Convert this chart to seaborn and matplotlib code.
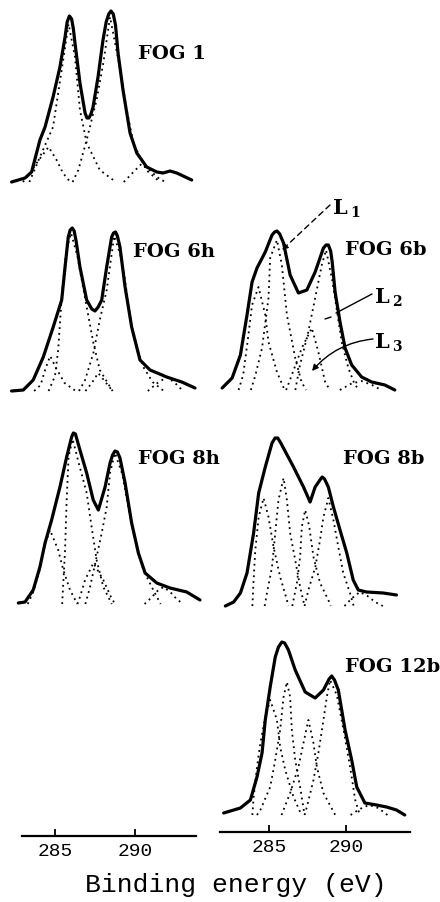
import pandas as pd
import matplotlib
matplotlib.use('Agg')
import matplotlib.pyplot as plt
import seaborn as sns

# spectra: binding energy (eV) vs intensity (arb. units, baseline = 0)
# envelope = measured C1s line, peaks = dotted fit components

fog1_ev = [282.29, 283.13, 283.54, 284.06, 284.38, 284.88, 285.31, 285.63, 285.76, 285.9,
           286.04, 286.15, 286.25, 286.56, 286.88, 287.0, 287.12, 287.25, 287.38, 287.69,
           288.0, 288.2, 288.36, 288.5, 288.64, 288.78, 288.94, 289.25, 289.69, 290.11,
           290.73, 291.36, 291.75, 292.19, 292.61, 293.54]
fog1_int = [0, 4, 10, 42, 55, 85, 115, 145, 160, 166,
            163, 153, 139, 99, 69, 64, 64, 68, 75, 105,
            142, 160, 168, 171, 168, 157, 129, 92, 49, 29,
            15, 10, 9, 11, 9, 2]
fog1_peaks = [
    ([283.0, 283.4, 283.9, 284.6, 285.1, 285.5, 285.95], [0, 8, 20, 35, 22, 9, 0]),
    ([283.4, 284.06, 284.88, 285.2, 285.42, 285.85, 286.25, 286.56, 286.98, 287.8, 288.8],
     [0, 25, 55, 89, 112, 158, 125, 72, 39, 12, 0]),
    ([286.1, 286.46, 286.98, 287.6, 288.02, 288.44, 288.96, 289.48, 289.9, 290.7, 291.56],
     [0, 12, 42, 82, 119, 165, 122, 72, 39, 12, 0]),
    ([289.3, 289.9, 290.4, 290.9, 291.6, 292.0], [0, 10, 18, 12, 2, 0]),
]

fog6h_ev = [282.29, 283.02, 283.64, 284.27, 284.89, 285.42, 285.63, 285.83, 285.95, 286.08,
            286.2, 286.32, 286.56, 286.98, 287.3, 287.5, 287.7, 287.92, 288.23, 288.54,
            288.66, 288.78, 288.9, 289.06, 289.38, 289.79, 290.31, 290.94, 291.98, 292.92,
            293.75]
fog6h_int = [0, 1, 11, 34, 64, 91, 124, 154, 161, 163,
             160, 150, 124, 91, 82, 80, 84, 91, 124, 154,
             158, 159, 155, 144, 104, 64, 31, 21, 14, 9,
             3]
fog6h_peaks = [
    ([283.7, 284.1, 284.4, 284.7, 285.1, 285.6, 286.3], [0, 6, 22, 35, 22, 8, 0]),
    ([284.6, 285.0, 285.2, 285.42, 285.7, 286.0, 286.4, 286.98, 287.4, 287.8, 288.6],
     [0, 15, 41, 94, 140, 158, 135, 84, 48, 21, 0]),
    ([286.5, 286.88, 287.4, 287.8, 288.23, 288.7, 289.2, 289.79, 290.1, 290.52, 291.1, 291.8],
     [0, 11, 38, 71, 101, 155, 130, 64, 44, 24, 9, 0]),
    ([286.9, 287.3, 287.7, 288.1, 288.6], [0, 8, 18, 10, 0]),
    ([290.8, 291.4, 292.0, 292.5, 293.0], [0, 8, 14, 8, 0]),
]

fog6b_ev = [281.93, 282.58, 283.12, 283.55, 283.88, 284.2, 284.74, 285.18, 285.35, 285.5,
            285.68, 285.93, 286.36, 286.9, 287.45, 287.99, 288.53, 288.7, 288.85, 289.0,
            289.1, 289.29, 289.61, 289.94, 290.37, 291.02, 291.67, 292.53, 293.18]
fog6b_int = [2, 12, 35, 75, 108, 122, 138, 155, 158, 159,
             156, 147, 115, 97, 100, 118, 142, 145, 145, 139,
             128, 98, 68, 42, 25, 13, 8, 5, 0]
fog6b_peaks = [
    ([283.0, 283.3, 283.6, 283.88, 284.3, 284.74, 284.95, 285.5, 286.0],
     [0, 15, 50, 85, 103, 75, 48, 18, 0]),
    ([283.8, 284.1, 284.53, 284.95, 285.06, 285.5, 285.82, 286.15, 286.69, 287.1, 287.4],
     [0, 15, 42, 92, 132, 150, 125, 75, 32, 8, 0]),
    ([286.1, 286.47, 287.12, 287.77, 288.2, 288.64, 288.95], [0, 15, 42, 62, 38, 8, 0]),
    ([286.7, 287.0, 287.5, 287.99, 288.42, 288.7, 289.1, 289.72, 290.15, 290.58, 290.9],
     [0, 25, 55, 92, 125, 140, 110, 48, 22, 5, 0]),
    ([289.6, 290.3, 291.0, 291.7, 292.3], [0, 6, 9, 5, 0]),
]

fog8h_ev = [282.71, 283.13, 283.64, 284.06, 284.38, 284.79, 285.31, 285.73, 286.04, 286.15,
            286.28, 286.4, 286.56, 286.98, 287.39, 287.71, 288.13, 288.44, 288.6, 288.75,
            288.9, 289.06, 289.38, 289.79, 290.21, 290.63, 291.36, 292.19, 293.23, 294.06]
fog8h_int = [1, 2, 14, 37, 61, 84, 117, 147, 167, 171,
             170, 163, 154, 131, 104, 94, 117, 141, 149, 153,
             152, 146, 121, 81, 51, 31, 21, 16, 12, 4]
fog8h_peaks = [
    ([283.3, 283.64, 284.06, 284.38, 284.69, 285.2, 285.52, 285.94, 286.4],
     [0, 12, 35, 60, 74, 54, 34, 14, 0]),
    ([285.45, 285.52, 285.63, 285.73, 285.85, 286.1, 286.5, 286.98, 287.29, 287.6, 288.02, 288.55],
     [0, 21, 54, 104, 147, 165, 140, 111, 77, 44, 17, 0]),
    ([286.4, 286.56, 286.88, 287.4, 288.02, 288.5, 288.75], [0, 7, 24, 41, 24, 7, 0]),
    ([286.9, 287.19, 287.6, 287.92, 288.23, 288.44, 288.75, 289.2, 289.58, 290.0, 290.52, 291.14, 291.6],
     [0, 17, 47, 71, 97, 131, 151, 130, 97, 64, 34, 14, 0]),
    ([290.6, 291.0, 291.4, 291.77, 292.2, 292.6, 293.0], [0, 6, 13, 17, 12, 5, 0]),
]

fog8b_ev = [282.14, 282.68, 283.12, 283.55, 283.98, 284.31, 284.74, 285.18, 285.38, 285.55,
            285.75, 286.58, 287.23, 287.66, 287.99, 288.3, 288.45, 288.6, 288.85, 289.18,
            289.61, 290.05, 290.47, 290.8, 291.34, 292.42, 293.29]
fog8b_int = [0, 4, 13, 33, 73, 113, 139, 163, 168, 168,
             163, 139, 119, 104, 119, 126, 129, 127, 119, 99,
             76, 53, 26, 16, 14, 13, 11]
fog8b_peaks = [
    ([283.9, 283.98, 284.09, 284.31, 284.63, 284.95, 285.28, 285.71, 286.15, 286.25],
     [0, 26, 56, 89, 108, 89, 59, 29, 6, 0]),
    ([284.7, 284.85, 285.18, 285.39, 285.6, 285.93, 286.15, 286.36, 286.69, 287.01, 287.3],
     [0, 13, 39, 73, 106, 128, 106, 73, 46, 19, 0]),
    ([286.5, 286.8, 287.01, 287.12, 287.34, 287.6, 287.88, 288.31, 288.85, 289.0],
     [0, 23, 49, 79, 96, 80, 49, 23, 6, 0]),
    ([287.3, 287.55, 288.0, 288.31, 288.53, 288.85, 289.18, 289.5, 289.82, 290.26, 290.5],
     [0, 16, 39, 66, 89, 108, 86, 59, 33, 13, 0]),
    ([289.9, 290.4, 290.9, 291.4, 291.9, 292.4], [0, 8, 14, 10, 4, 0]),
]

fog12b_ev = [282.03, 283.12, 283.77, 284.2, 284.53, 284.74, 285.06, 285.39, 285.6, 285.82,
             286.0, 286.25, 286.69, 287.34, 287.99, 288.53, 288.9, 289.07, 289.25, 289.5,
             289.94, 290.37, 290.7, 291.23, 291.99, 292.64, 293.29, 293.83]
fog12b_int = [2, 7, 15, 38, 62, 95, 128, 158, 168, 173,
              172, 165, 145, 123, 117, 125, 136, 139, 135, 125,
              85, 55, 28, 12, 10, 8, 5, 0]
fog12b_peaks = [
    ([283.9, 283.98, 284.2, 284.42, 284.74, 285.06, 285.5, 285.71, 286.04, 286.58, 287.1],
     [0, 18, 48, 72, 98, 115, 95, 68, 45, 18, 0]),
    ([284.2, 284.42, 285.06, 285.39, 285.71, 285.93, 286.15, 286.36, 286.47, 286.69, 287.01, 287.3],
     [0, 5, 28, 55, 85, 118, 133, 118, 85, 55, 28, 0]),
    ([285.8, 286.36, 286.9, 287.23, 287.55, 287.88, 288.1, 288.53, 289.3],
     [0, 22, 48, 72, 95, 72, 48, 22, 0]),
    ([287.3, 287.45, 287.88, 288.2, 288.53, 288.75, 288.96, 289.4, 289.9, 290.3, 290.6, 290.9],
     [0, 8, 35, 62, 95, 118, 135, 120, 80, 45, 15, 0]),
    ([290.3, 290.9, 291.5, 292.1, 292.7], [0, 6, 10, 7, 0]),
]

sample_names = ['FOG 1', 'FOG 6h', 'FOG 6b', 'FOG 8h', 'FOG 8b', 'FOG 12b']
tick_values = [285, 290]
x_label = 'Binding energy (eV)'

sns.set_theme(style='white')
plt.rcParams['font.family'] = ['Liberation Mono', 'DejaVu Sans Mono']
plt.rcParams['text.color'] = 'black'
plt.rcParams['xtick.color'] = 'black'
plt.rcParams['xtick.labelcolor'] = 'black'

W, H = 440, 902
fig = plt.figure(figsize=(W / 100, H / 100), dpi=100)

LEFT = (22, 196, (282.94, 293.81))
RIGHT = (220, 410, (281.79, 294.17))


def px_axes(col, y_base, height=180):
    x0, x1, lim = col
    ax = fig.add_axes([x0 / W, 1 - y_base / H, (x1 - x0) / W, height / H])
    ax.set_xlim(*lim)
    ax.set_ylim(0, height)
    ax.patch.set_alpha(0)
    return ax


# column, baseline pixel, label position (px)
layout = [
    (fog1_ev, fog1_int, fog1_peaks, LEFT, 182, (138, 54)),
    (fog6h_ev, fog6h_int, fog6h_peaks, LEFT, 391, (133, 252)),
    (fog6b_ev, fog6b_int, fog6b_peaks, RIGHT, 390, (345, 250)),
    (fog8h_ev, fog8h_int, fog8h_peaks, LEFT, 604, (138, 459)),
    (fog8b_ev, fog8b_int, fog8b_peaks, RIGHT, 606, (343, 459)),
    (fog12b_ev, fog12b_int, fog12b_peaks, RIGHT, 815, (345, 667)),
]

for ev, inten, peaks, col, base, _ in layout:
    ax = px_axes(col, base)
    comp = pd.concat([pd.DataFrame({'ev': p[0], 'int': p[1], 'peak': i})
                      for i, p in enumerate(peaks)])
    sns.lineplot(data=comp, x='ev', y='int', units='peak', estimator=None, sort=False,
                 color='black', lw=1.3, ls=(0, (1, 2.2)), clip_on=False, ax=ax)
    sns.lineplot(x=ev, y=inten, estimator=None, sort=False, color='black', lw=2.3,
                 solid_joinstyle='round', solid_capstyle='round', clip_on=False, ax=ax)
    ax.axis('off')

# energy axes under each column
for col, y_axis in [(LEFT, 836), (RIGHT, 832)]:
    ax = px_axes(col, y_axis, height=20)
    for s in ['top', 'left', 'right']:
        ax.spines[s].set_visible(False)
    ax.spines['bottom'].set_linewidth(1.6)
    ax.spines['bottom'].set_color('black')
    ax.set_yticks([])
    ax.set_xticks(tick_values)
    ax.set_xticklabels([str(t) for t in tick_values])
    ax.tick_params(axis='x', direction='in', length=5, width=1.3, color='black',
                   labelcolor='black', labelsize=14, pad=5, bottom=True)

# overlay in pixel coords for labels and leaders
ov = fig.add_axes([0, 0, 1, 1])
ov.set_xlim(0, W)
ov.set_ylim(H, 0)
ov.axis('off')

serif = ['DejaVu Serif']
for (_, _, _, _, _, (tx, ty)), name in zip(layout, sample_names):
    ov.text(tx, ty, name, ha='left', va='center', fontsize=14, fontweight='bold',
            family=serif, color='black')

ov.text(236, 885, x_label, ha='center', va='center', fontsize=19, color='black')

for lx, ly, sub in [(333, 208, '1'), (375, 297, '2'), (375, 342, '3')]:
    ov.text(lx, ly, 'L', ha='left', va='center', fontsize=15, fontweight='bold',
            family=serif, color='black')
    ov.text(lx + 17, ly + 5, sub, ha='left', va='center', fontsize=10, fontweight='bold',
            family=serif, color='black')

ov.annotate('', xy=(282, 250), xytext=(330, 205),
            arrowprops=dict(arrowstyle='-|>', ls=(0, (4, 3)), lw=1, color='black',
                            mutation_scale=8, shrinkA=0, shrinkB=0))
ov.plot([372, 336], [294, 313], color='black', lw=1)
ov.plot([325, 331], [319, 317], color='black', lw=1)
ov.annotate('', xy=(312, 371), xytext=(373, 339),
            arrowprops=dict(arrowstyle='-|>', lw=1, color='black', mutation_scale=9,
                            connectionstyle='arc3,rad=0.2', shrinkA=0, shrinkB=0))

fig.savefig('out.png', dpi=100)
